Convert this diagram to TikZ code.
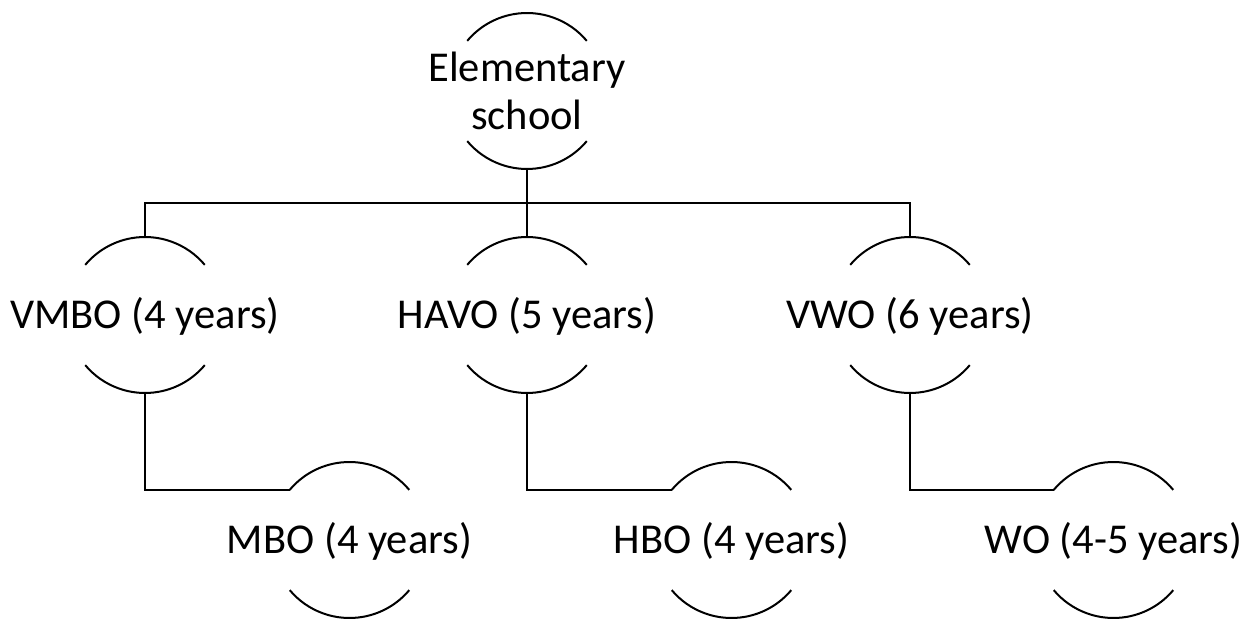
\documentclass[tikz,border=0pt]{standalone}
\usepackage{fontspec}
\setmainfont{Carlito}
\begin{document}
\begin{tikzpicture}[x=1pt,y=1pt,
  ln/.style={draw=black,line width=2pt},
  lbl/.style={inner sep=0pt,outer sep=0pt,font=\fontsize{42.5}{50}\selectfont,text height=27pt,text depth=0pt},
  lbl2/.style={inner sep=0pt,outer sep=0pt,font=\fontsize{42.5}{48}\selectfont,align=center}]
\useasboundingbox (0,0) rectangle (1253,-620);
\node[lbl2] (E) at (527,-91) {Elementary\\school};
\node[lbl] (VMBO) at (145,-315) {VMBO (4 years)};
\node[lbl] (HAVO) at (527,-315) {HAVO (5 years)};
\node[lbl] (VWO) at (910,-315) {VWO (6 years)};
\node[lbl] (MBO) at (349.5,-540) {MBO (4 years)};
\node[lbl] (HBO) at (731.5,-540) {HBO (4 years)};
\node[lbl] (WO) at (1113.5,-540) {WO (4-5 years)};
\foreach \n in {E,VMBO,HAVO,VWO,MBO,HBO,WO}{
  \draw[ln] ([shift={(40:78pt)}]\n.center) arc[start angle=40,end angle=140,radius=78pt];
  \draw[ln] ([shift={(220:78pt)}]\n.center) arc[start angle=220,end angle=320,radius=78pt];
  \coordinate (\n-t) at ([yshift=78pt]\n.center);
  \coordinate (\n-b) at ([yshift=-78pt]\n.center);
  \coordinate (\n-l) at ([shift={(140:78pt)}]\n.center);
}
\draw[ln] (E-b) -- (HAVO-t);
\draw[ln] (VMBO-t) -- ++(0,34) -| (VWO-t);
\draw[ln] (VMBO-b) |- (MBO-l);
\draw[ln] (HAVO-b) |- (HBO-l);
\draw[ln] (VWO-b) |- (WO-l);
\end{tikzpicture}
\end{document}
